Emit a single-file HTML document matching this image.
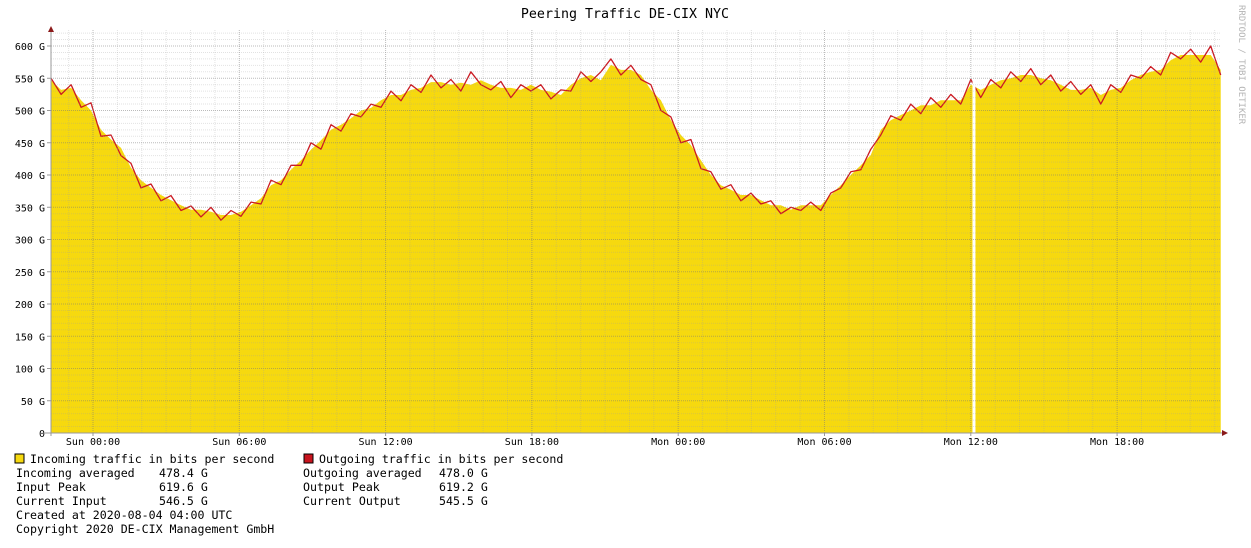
<!DOCTYPE html>
<html><head><meta charset="utf-8">
<style>
body{margin:0;background:#fff;}
svg text{font-family:"DejaVu Sans Mono","Liberation Mono",monospace;font-size:10px;fill:#000;}
#legend text{font-size:11.6px;}
</style></head>
<body>
<svg id="chart" width="1251" height="543" xmlns="http://www.w3.org/2000/svg">
<rect width="1251" height="543" fill="#fff"/>
<text x="625" y="18" text-anchor="middle" style="font-size:13.3px">Peering Traffic DE-CIX NYC</text>
<text transform="translate(1239,5) rotate(90)" style="fill:#b4b4b4;font-size:9px">RRDTOOL / TOBI OETIKER</text>
<g id="grid"></g>
<g id="marks"></g>
<g id="gridTop"></g>
<g id="axes"></g>
<g id="legend">
<rect x="15" y="454" width="9" height="9" fill="#F6D90F" stroke="#000"/>
<text x="30" y="463">Incoming traffic in bits per second</text>
<rect x="304" y="454" width="9" height="9" fill="#C8141E" stroke="#000"/>
<text x="319" y="463">Outgoing traffic in bits per second</text>
<text x="16" y="477">Incoming averaged</text><text x="159" y="477">478.4 G</text>
<text x="16" y="491">Input Peak</text><text x="159" y="491">619.6 G</text>
<text x="16" y="505">Current Input</text><text x="159" y="505">546.5 G</text>
<text x="303" y="477">Outgoing averaged</text><text x="439" y="477">478.0 G</text>
<text x="303" y="491">Output Peak</text><text x="439" y="491">619.2 G</text>
<text x="303" y="505">Current Output</text><text x="439" y="505">545.5 G</text>
<text x="16" y="519">Created at 2020-08-04 04:00 UTC</text>
<text x="16" y="533">Copyright 2020 DE-CIX Management GmbH</text>
</g>
</svg>
<script>
const yTicks=[0,50,100,150,200,250,300,350,400,450,500,550,600];
const xTickHours=[0,6,12,18,24,30,36,42];
const xTickLabels=["Sun 00:00","Sun 06:00","Sun 12:00","Sun 18:00","Mon 00:00","Mon 06:00","Mon 12:00","Mon 18:00"];
const startHour=-1.72, stepHour=0.41;
const incoming=[547,532,535,516,500,470,455,442,411,392,380,369,361,353,346,346,343,338,338,343,353,364,384,392,408,423,439,454,470,478,488,500,504,516,524,524,532,535,544,544,540,543,540,547,540,535,535,532,540,532,529,524,540,550,555,547,571,563,563,555,532,516,485,462,446,423,400,384,377,369,369,361,353,353,346,353,353,353,369,384,400,415,431,470,485,493,500,508,508,516,516,516,540,532,540,547,550,555,555,550,547,540,532,532,535,524,532,535,547,555,560,563,578,586,586,586,586,563];
const outgoing=[550,525,540,505,512,460,462,430,418,380,386,360,368,345,352,335,350,330,345,336,358,355,392,385,415,415,450,440,478,468,495,490,510,505,530,515,540,528,555,535,548,530,560,540,532,545,520,540,530,540,518,532,530,560,545,560,580,555,570,548,540,500,490,450,455,410,405,378,385,360,372,355,360,340,350,345,358,345,372,380,405,408,440,462,492,485,510,495,520,505,525,510,548,520,548,535,560,545,565,540,555,530,545,525,540,510,540,528,555,550,568,555,590,580,595,575,600,555];
const gapHours=[36.13];
const x0=51,x1=1221,yBase=433,pxPerG=32.25/50;
const X=h=>93+h*(146.3/6);
const Y=v=>yBase-v*pxPerG;
const NS="http://www.w3.org/2000/svg";
function mk(tag,attrs,parent){const e=document.createElementNS(NS,tag);for(const k in attrs)e.setAttribute(k,attrs[k]);parent.appendChild(e);return e;}
const grid=document.getElementById('grid'),marks=document.getElementById('marks'),gt=document.getElementById('gridTop'),axes=document.getElementById('axes');
let d="M"+X(startHour)+","+yBase;
incoming.forEach((v,i)=>{d+=" L"+X(startHour+i*stepHour).toFixed(1)+","+Y(v).toFixed(1);});
d+=" L"+X(startHour+(incoming.length-1)*stepHour)+","+yBase+" Z";
const area=mk('path',{d:d,fill:'#F6D90F'},marks);


let dl="";
outgoing.forEach((v,i)=>{dl+=(i?" L":"M")+X(startHour+i*stepHour).toFixed(1)+","+Y(v).toFixed(1);});
const line=mk('path',{d:dl,fill:'none',stroke:'#CC1A22','stroke-width':1.3,'stroke-linejoin':'round'},marks);


gapHours.forEach(h=>{const g=mk('rect',{x:X(h)-1.5,y:30,width:3,height:yBase-30,fill:'#fff'},marks);

});
for(let v=0;v<=620;v+=10){const y=Y(v);if(y<30)break;const maj=v%50===0;
mk('line',{x1:x0,x2:x1,y1:y,y2:y,stroke:maj?'rgba(120,120,120,0.5)':'rgba(160,160,160,0.3)','stroke-dasharray':'1,1'},gt);}
for(let h=-1;h<=46;h++){const x=X(h);if(x<x0||x>x1)continue;const maj=h%6===0;
mk('line',{x1:x,x2:x,y1:30,y2:yBase,stroke:maj?'rgba(120,120,120,0.5)':'rgba(160,160,160,0.3)','stroke-dasharray':'1,1'},gt);}
mk('line',{x1:x0,x2:x0,y1:yBase+3,y2:30,stroke:'#999'},axes);
mk('polygon',{points:`${x0-3},32 ${x0+3},32 ${x0},26`,fill:'#8B1A1A'},axes);
mk('line',{x1:45,x2:1224,y1:yBase,y2:yBase,stroke:'#999'},axes);
mk('polygon',{points:`1222,${yBase-3} 1222,${yBase+3} 1228,${yBase}`,fill:'#8B1A1A'},axes);
yTicks.forEach(v=>{const t=mk('text',{x:45,y:Y(v)+4,'text-anchor':'end'},axes);t.textContent=v===0?"0":v+" G";


mk('line',{x1:47,x2:51,y1:Y(v),y2:Y(v),stroke:'#999'},axes);});
xTickHours.forEach((h,i)=>{const t=mk('text',{x:X(h),y:445,'text-anchor':'middle'},axes);t.textContent=xTickLabels[i];


mk('line',{x1:X(h),x2:X(h),y1:yBase,y2:yBase+3,stroke:'#999'},axes);});
</script>
</body></html>
